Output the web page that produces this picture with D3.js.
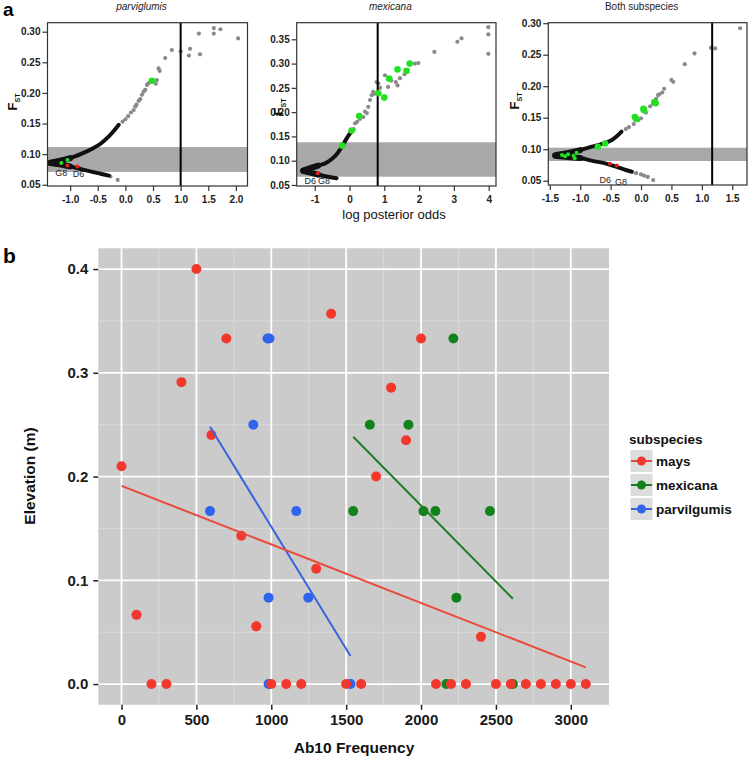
<!DOCTYPE html>
<html><head><meta charset="utf-8">
<script src="https://cdn.jsdelivr.net/npm/d3@7"></script>
<style>body{margin:0;background:#fff}svg{display:block}</style>
</head><body>
<svg id="c" width="748" height="764"></svg>
<script>
// ================= Panel a data =================
const aTitles = ["parviglumis", "mexicana", "Both subspecies"];
const aThreshold = [1.0, 0.81, 1.17];
const aBandLow = [0.071, 0.067, 0.0813];
const aBandHigh = [0.1116, 0.1379, 0.1024];
const aXTicks1 = [-1.0, -0.5, 0.0, 0.5, 1.0, 1.5, 2.0];
const aXTicks2 = [-1, 0, 1, 2, 3, 4];
const aXTicks3 = [-1.5, -1.0, -0.5, 0.0, 0.5, 1.0, 1.5];
const aYTicks1 = [0.05, 0.10, 0.15, 0.20, 0.25, 0.30];
const aYTicks2 = [0.05, 0.10, 0.15, 0.20, 0.25, 0.30, 0.35];
const aYTicks3 = [0.05, 0.10, 0.15, 0.20, 0.25, 0.30];

// parviglumis
const upper1 = [[-1.36,0.086],[-1.2,0.089],[-1.0,0.0935],[-0.8,0.1005],[-0.6,0.109],[-0.45,0.117],[-0.3,0.129],[-0.2,0.139],[-0.12,0.148]];
const lower1 = [[-1.36,0.0855],[-1.2,0.0835],[-1.0,0.080],[-0.8,0.0755],[-0.6,0.071],[-0.45,0.068],[-0.3,0.065]];
const gray1 = [[-0.27,0.0635],[-0.14,0.058],[-0.05,0.153],[0.0,0.157],[0.05,0.162],[0.1,0.168],[0.15,0.172],[0.18,0.178],[0.2,0.181],[0.24,0.187],[0.27,0.19],[0.3,0.197],[0.33,0.202],[0.36,0.205],[0.39,0.213],[0.42,0.216],[0.55,0.215],[0.57,0.221],[0.6,0.24],[0.62,0.236],[0.72,0.257],[0.84,0.27],[1.0,0.268],[1.15,0.261],[1.17,0.272],[1.33,0.297],[1.35,0.263],[1.6,0.306],[1.6,0.297],[1.72,0.304],[2.04,0.289]];
const greenBig1 = [[0.48,0.22]];
const green1 = [[-1.16,0.0854],[-1.05,0.0903]];
const red1 = [[-1.05,0.0815],[-0.87,0.0799]];
const labels1 = [{t:"G8", x:-1.16, y:0.069}, {t:"D6", x:-0.85, y:0.068}];

// mexicana
const upper2 = [[-1.33,0.0795],[-1.09,0.0857],[-0.9,0.090],[-0.7,0.0946],[-0.5,0.104],[-0.35,0.115],[-0.22,0.129],[-0.08,0.146],[0.05,0.16]];
const lower2 = [[-1.33,0.079],[-1.1,0.075],[-0.9,0.0712],[-0.61,0.067],[-0.37,0.064]];
const gray2 = [[0.12,0.165],[0.16,0.177],[0.22,0.18],[0.3,0.186],[0.4,0.19],[0.445,0.201],[0.5,0.198],[0.54,0.211],[0.59,0.225],[0.64,0.235],[0.68,0.242],[0.72,0.238],[0.78,0.262],[0.83,0.259],[0.88,0.25],[1.02,0.276],[1.11,0.252],[1.2,0.265],[1.33,0.262],[1.38,0.255],[1.45,0.27],[1.58,0.278],[1.88,0.30],[1.98,0.301],[2.44,0.324],[3.1,0.345],[3.22,0.352],[3.99,0.375],[3.99,0.36],[3.99,0.32]];
const greenBig2 = [[-0.21,0.131],[0.06,0.162],[0.28,0.192],[0.83,0.239],[1.0,0.23],[1.14,0.269],[1.38,0.288],[1.64,0.285],[1.73,0.300]];
const green2 = [];
const red2 = [[-0.91,0.074]];
const labels2 = [{t:"D6", x:-1.13, y:0.058}, {t:"G8", x:-0.73, y:0.058}];

// Both subspecies
const upper3 = [[-1.41,0.0905],[-1.2,0.094],[-1.0,0.0987],[-0.85,0.103],[-0.7,0.1067],[-0.48,0.1146],[-0.32,0.128]];
const lower3 = [[-1.41,0.0895],[-1.2,0.0875],[-1.0,0.086],[-0.8,0.0815],[-0.59,0.0776],[-0.4,0.072],[-0.25,0.067],[-0.15,0.0643]];
const gray3 = [[-0.25,0.132],[-0.2,0.135],[-0.12,0.14],[-0.05,0.146],[0.0,0.149],[0.08,0.158],[0.15,0.168],[0.2,0.172],[0.25,0.18],[0.28,0.186],[0.3,0.187],[0.35,0.19],[0.38,0.196],[0.5,0.21],[0.53,0.207],[0.72,0.235],[0.88,0.252],[1.15,0.261],[1.22,0.26],[1.63,0.292],[-0.08,0.062],[0.0,0.06],[0.05,0.058],[0.11,0.056],[0.2,0.051]];
const greenBig3 = [[-0.71,0.104],[-0.59,0.109],[-0.1,0.151],[-0.08,0.148],[0.04,0.164],[0.05,0.162],[0.22,0.175],[0.24,0.173]];
const green3 = [[-1.30,0.0908],[-1.25,0.089],[-1.2,0.092],[-1.11,0.0897],[-1.06,0.0945],[-1.09,0.0856]];
const red3 = [[-0.51,0.077],[-0.4,0.074]];
const labels3 = [{t:"D6", x:-0.59, y:0.051}, {t:"G8", x:-0.33, y:0.048}];

// ================= Panel b data =================
const subspecies = ["mays", "mexicana", "parvilgumis"];
const maysAb10 = [0,100,200,300,400,500,600,700,800,900,1000,1100,1200,1300,1400,1500,1600,1700,1800,1900,2000,2100,2200,2300,2400,2500,2600,2700,2800,2900,3000,3100];
const maysElev = [0.21,0.0667,0,0,0.291,0.4,0.24,0.333,0.1429,0.0556,0,0,0,0.1111,0.357,0,0,0.2,0.2857,0.235,0.333,0,0,0,0.0455,0,0,0,0,0,0,0];
const mexicanaAb10 = [2216,1658,1916,1547,2016,2096,2460,2236,2169,2613];
const mexicanaElev = [0.333,0.25,0.25,0.1667,0.1667,0.1667,0.1667,0.0833,0,0];
const parvilgumisAb10 = [975,988,880,591,1167,982,1247,982,1529];
const parvilgumisElev = [0.333,0.333,0.25,0.1667,0.1667,0.0833,0.0833,0,0];
const trendStartElev = [0.191, 0.2384, 0.248];
const trendEndElev = [0.0161, 0.0822, 0.027];
const xTickValues = [0,500,1000,1500,2000,2500,3000];
const yTickValues = [0.0,0.1,0.2,0.3,0.4];

// ================= Drawing =================
const svg = d3.select("#c");
const FONT = "'Liberation Sans', Arial, Helvetica, sans-serif";

svg.append("text").attr("x",3).attr("y",16).text("a")
  .attr("font-family",FONT).attr("font-weight","bold").attr("font-size",19);
svg.append("text").attr("x",3).attr("y",263).text("b")
  .attr("font-family",FONT).attr("font-weight","bold").attr("font-size",21);

const subCfg = [
  {left:47.5, right:247.5, top:22.7, bottom:186, xd:[-1.41,2.21], yd:[0.048,0.3147], xt:aXTicks1, yt:aYTicks1, xf:d=>d.toFixed(1), italic:true,
   upper:upper1, lower:lower1, gray:gray1, greenBig:greenBig1, green:green1, red:red1, labels:labels1, fx:12, fy:102},
  {left:296.7, right:496, top:22.7, bottom:186, xd:[-1.517,4.21], yd:[0.0479,0.3842], xt:aXTicks2, yt:aYTicks2, xf:d=>d.toFixed(0), italic:true,
   upper:upper2, lower:lower2, gray:gray2, greenBig:greenBig2, green:green2, red:red2, labels:labels2, fx:278, fy:107},
  {left:548.3, right:747, top:22.7, bottom:185, xd:[-1.525,1.743], yd:[0.0432,0.3008], xt:aXTicks3, yt:aYTicks3, xf:d=>d.toFixed(1), italic:false,
   upper:upper3, lower:lower3, gray:gray3, greenBig:greenBig3, green:green3, red:red3, labels:labels3, fx:514, fy:101}
];

subCfg.forEach((c, i) => {
  const x = d3.scaleLinear().domain(c.xd).range([c.left, c.right]);
  const y = d3.scaleLinear().domain(c.yd).range([c.bottom, c.top]);
  const g = svg.append("g");
  g.append("rect").attr("x", c.left).attr("width", c.right - c.left)
    .attr("y", y(aBandHigh[i])).attr("height", y(aBandLow[i]) - y(aBandHigh[i]))
    .attr("fill", "#a9a9a9");
  g.selectAll(".gp").data(c.gray).join("circle")
    .attr("cx", d => x(d[0])).attr("cy", d => y(d[1])).attr("r", 2.1)
    .attr("fill", "#8a8a8a");
  const line = d3.line().x(d => x(d[0])).y(d => y(d[1])).curve(d3.curveCatmullRom);
  [c.upper, c.lower].forEach(br => {
    g.append("path").attr("d", line(br)).attr("fill","none").attr("stroke","#111")
      .attr("stroke-width", 4).attr("stroke-linecap","round");
    g.append("path").attr("d", line(br.slice(0,3))).attr("fill","none").attr("stroke","#111")
      .attr("stroke-width", 6).attr("stroke-linecap","round");
  });
  g.append("line").attr("x1", x(aThreshold[i])).attr("x2", x(aThreshold[i]))
    .attr("y1", c.top).attr("y2", c.bottom).attr("stroke","#000").attr("stroke-width",2);
  g.selectAll(".gb").data(c.greenBig).join("circle")
    .attr("cx", d => x(d[0])).attr("cy", d => y(d[1])).attr("r", 3.3).attr("fill", "#22e022");
  g.selectAll(".gs").data(c.green).join("circle")
    .attr("cx", d => x(d[0])).attr("cy", d => y(d[1])).attr("r", 2).attr("fill", "#22e022");
  g.selectAll(".rs").data(c.red).join("circle")
    .attr("cx", d => x(d[0])).attr("cy", d => y(d[1])).attr("r", 2).attr("fill", "#e81c1c");
  g.selectAll(".lb").data(c.labels).join("text")
    .attr("x", d => x(d.x)).attr("y", d => y(d.y)).attr("dy","0.35em").attr("text-anchor","middle")
    .attr("font-family", FONT).attr("font-size", 9).attr("fill","#222").text(d => d.t);
  g.append("rect").attr("x", c.left).attr("y", c.top).attr("width", c.right - c.left)
    .attr("height", c.bottom - c.top).attr("fill","none").attr("stroke","#333").attr("stroke-width",1.2);
  const ya = g.append("g").attr("transform", `translate(${c.left},0)`)
    .call(d3.axisLeft(y).tickValues(c.yt).tickFormat(d => d.toFixed(2)).tickSize(5).tickPadding(2));
  const xa = g.append("g").attr("transform", `translate(0,${c.bottom})`)
    .call(d3.axisBottom(x).tickValues(c.xt).tickFormat(c.xf).tickSize(5).tickPadding(5));
  [ya, xa].forEach(a => {
    a.select(".domain").remove();
    a.selectAll("line").attr("stroke","#333").attr("stroke-width",1.2);
    a.selectAll("text").attr("font-family",FONT).attr("font-weight","bold").attr("font-size",10).attr("fill","#222");
  });
  g.append("text").attr("x", (c.left + c.right)/2 - 6).attr("y", 10).attr("text-anchor","middle")
    .attr("font-family",FONT).attr("font-size",10).attr("font-style", c.italic ? "italic" : "normal")
    .attr("fill","#222").text(aTitles[i]);
  const ft = g.append("text").attr("transform", `translate(${c.fx + 5},${c.fy}) rotate(-90)`)
    .attr("text-anchor","middle").attr("font-family",FONT).attr("font-weight","bold").attr("font-size",13).attr("fill","#111");
  ft.append("tspan").text("F");
  ft.append("tspan").attr("font-size",7).attr("dy",3).text("ST");
});
svg.append("text").attr("x",394).attr("y",219).attr("text-anchor","middle")
  .attr("font-family",FONT).attr("font-size",13).attr("fill","#111").text("log posterior odds");

// ================= Panel b =================
const bx = d3.scaleLinear().domain([-155, 3255]).range([98.3, 609]);
const by = d3.scaleLinear().domain([-0.02, 0.42]).range([704.8, 248.3]);
const colors = {mays:"#f2382c", mexicana:"#12821c", parvilgumis:"#2f64ee"};
const lineColors = {mays:"#e94a3c", mexicana:"#1d7d24", parvilgumis:"#3b63dc"};
const pb = svg.append("g");
pb.append("rect").attr("x",98.3).attr("y",248.3).attr("width",609-98.3).attr("height",704.8-248.3).attr("fill","#cbcbcb");
const xMinor = [250,750,1250,1750,2250,2750];
const yMinor = [0.05,0.15,0.25,0.35];
pb.selectAll(".xm").data(xMinor).join("line").attr("x1",d=>bx(d)).attr("x2",d=>bx(d)).attr("y1",248.3).attr("y2",704.8).attr("stroke","#dadada").attr("stroke-width",1);
pb.selectAll(".ym").data(yMinor).join("line").attr("y1",d=>by(d)).attr("y2",d=>by(d)).attr("x1",98.3).attr("x2",609).attr("stroke","#dadada").attr("stroke-width",1);
pb.selectAll(".xg").data(xTickValues).join("line").attr("x1",d=>bx(d)).attr("x2",d=>bx(d)).attr("y1",248.3).attr("y2",704.8).attr("stroke","#fff").attr("stroke-width",1.8);
pb.selectAll(".yg").data(yTickValues).join("line").attr("y1",d=>by(d)).attr("y2",d=>by(d)).attr("x1",98.3).attr("x2",609).attr("stroke","#fff").attr("stroke-width",1.8);

const groups = [
  {name:"parvilgumis", xs:parvilgumisAb10, ys:parvilgumisElev, idx:2},
  {name:"mexicana", xs:mexicanaAb10, ys:mexicanaElev, idx:1},
  {name:"mays", xs:maysAb10, ys:maysElev, idx:0}
];
groups.forEach(gr => {
  const pts = gr.xs.map((v,k) => [v, gr.ys[k]]);
  pb.selectAll(".p"+gr.name).data(pts).join("circle")
    .attr("cx", d => bx(d[0])).attr("cy", d => by(d[1])).attr("r", 5).attr("fill", colors[gr.name]);
});
groups.forEach(gr => {
  const ext = d3.extent(gr.xs);
  pb.append("line").attr("x1", bx(ext[0])).attr("y1", by(trendStartElev[gr.idx]))
    .attr("x2", bx(ext[1])).attr("y2", by(trendEndElev[gr.idx]))
    .attr("stroke", lineColors[gr.name]).attr("stroke-width", 2);
});
const bya = pb.append("g").attr("transform","translate(98.3,0)")
  .call(d3.axisLeft(by).tickValues(yTickValues).tickFormat(d => d.toFixed(1)).tickSize(5).tickPadding(5));
const bxa = pb.append("g").attr("transform","translate(0,704.8)")
  .call(d3.axisBottom(bx).tickValues(xTickValues).tickFormat(d => String(d)).tickSize(5).tickPadding(5));
[bya, bxa].forEach(a => {
  a.select(".domain").remove();
  a.selectAll("line").attr("stroke","#222").attr("stroke-width",1.5);
  a.selectAll("text").attr("font-family",FONT).attr("font-weight","bold").attr("font-size",15).attr("fill","#1a1a1a");
});
svg.append("text").attr("x",354).attr("y",753).attr("text-anchor","middle")
  .attr("font-family",FONT).attr("font-weight","bold").attr("font-size",15.5).attr("fill","#111").text("Ab10 Frequency");
svg.append("text").attr("transform","translate(35,476) rotate(-90)").attr("text-anchor","middle")
  .attr("font-family",FONT).attr("font-weight","bold").attr("font-size",15.5).attr("fill","#111").text("Elevation (m)");

const lg = svg.append("g");
lg.append("text").attr("x",629).attr("y",444).text("subspecies")
  .attr("font-family",FONT).attr("font-weight","bold").attr("font-size",13.5).attr("fill","#111");
subspecies.forEach((s, k) => {
  const cy = 461 + k * 24;
  lg.append("rect").attr("x",630.5).attr("y",cy-11).attr("width",22).attr("height",22).attr("fill","#dcdcdc");
  lg.append("line").attr("x1",631).attr("x2",652).attr("y1",cy).attr("y2",cy).attr("stroke",lineColors[s]).attr("stroke-width",2);
  lg.append("circle").attr("cx",641.5).attr("cy",cy).attr("r",4.5).attr("fill",colors[s]);
  lg.append("text").attr("x",656).attr("y",cy+5).text(s)
    .attr("font-family",FONT).attr("font-weight","bold").attr("font-size",13.5).attr("fill","#111");
});
</script>
</body></html>
